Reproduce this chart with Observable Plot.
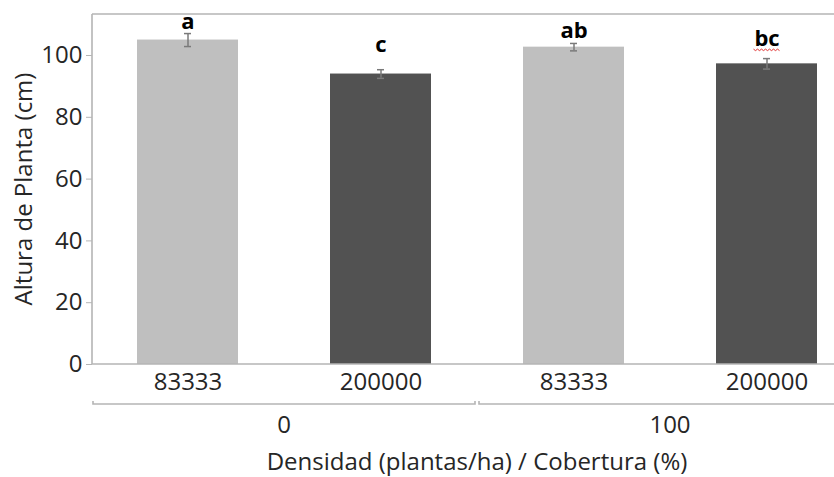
<!DOCTYPE html>
<html><head><meta charset="utf-8">
<script src="https://cdn.jsdelivr.net/npm/d3@7"></script>
<script src="https://cdn.jsdelivr.net/npm/@observablehq/plot@0.6"></script>
<style>body{margin:0;background:#fff}</style>
</head><body><div id="chart"></div>
<script>
// ---- data ----
const cobertura = ["0", "0", "100", "100"];
const densidad = ["83333", "200000", "83333", "200000"];
const altura = [105.0, 94.0, 102.7, 97.3];
const errorEst = [2.1, 1.4, 1.2, 1.7];
const letras = ["a", "c", "ab", "bc"];
const letraY = [108.7, 101.0, 105.8, 103.2];
const yTicks = [0, 20, 40, 60, 80, 100];
const grupos = ["0", "100"];
const yMax = 113.27;

const data = cobertura.map((c, i) => ({
  key: c + "|" + densidad[i], cob: c, dens: densidad[i],
  v: altura[i], lo: altura[i] - errorEst[i], hi: altura[i] + errorEst[i],
  letra: letras[i], ly: letraY[i]
}));

const FONT = "'Open Sans', sans-serif";
const TXT = "#262626";
const LINE = "#b5b5b5";

const plot = Plot.plot({
  width: 834, height: 477,
  marginLeft: 92, marginRight: 0, marginTop: 14, marginBottom: 113,
  style: {fontFamily: FONT, fontSize: "24px", background: "#fff"},
  x: {type: "band", domain: data.map(d => d.key), range: [91, 863],
      paddingInner: 0.477, paddingOuter: 0.2385, axis: null},
  y: {domain: [0, yMax], axis: null},
  color: {domain: ["83333", "200000"], range: ["#bfbfbf", "#525252"]},
  marks: [
    Plot.barY(data, {x: "key", y: "v", fill: "dens"}),
    Plot.ruleX(data, {x: "key", y1: "lo", y2: "hi", stroke: "#7a7a7a", strokeWidth: 1.5}),
    Plot.tickY(data, {x: "key", y: "lo", stroke: "#7a7a7a", strokeWidth: 1.5, insetLeft: 47, insetRight: 47}),
    Plot.tickY(data, {x: "key", y: "hi", stroke: "#7a7a7a", strokeWidth: 1.5, insetLeft: 47, insetRight: 47}),
    Plot.text(data, {x: "key", y: "ly", text: "letra", lineAnchor: "bottom",
      fontWeight: "bold", fontSize: 22, fill: "#000"}),
    Plot.axisY({ticks: yTicks, tickSize: 6, tickPadding: 4, fontSize: 24,
      stroke: LINE, fill: TXT, label: null}),
    Plot.axisX({tickSize: 0, tickPadding: 8, fontSize: 24, fill: TXT, label: null,
      tickFormat: k => k.split("|")[1]})
  ]
});

// ---- frame, group brackets, titles (positions from Plot's scales) ----
const svg = d3.select(plot);
const xs = plot.scale("x"), ys = plot.scale("y");
const bw = xs.bandwidth, step = xs.step;
const left = 92, right = 834;
const y0 = ys.apply(0), yTop = ys.apply(yMax);
const g = svg.append("g").attr("fill", "none").attr("stroke", LINE).attr("stroke-width", 1.6);
g.append("path").attr("d", `M${left},${yTop}H${right}M${left},${yTop}V${y0}H${right}`);

const keys = data.map(d => d.key);
const bracketY = y0 + 40;
grupos.forEach((gr, gi) => {
  const k0 = keys[gi * 2], k1 = keys[gi * 2 + 1];
  const start = xs.apply(k0) - (step - bw) / 2 + 2;
  const end = Math.min(xs.apply(k1) + bw + (step - bw) / 2 - 2, right);
  g.append("path").attr("d", `M${start},${bracketY - 3}V${bracketY}H${end}` + (end < right ? `V${bracketY - 3}` : ""));
  const cx = (xs.apply(k0) + xs.apply(k1) + bw) / 2;
  svg.append("text").attr("x", cx).attr("y", y0 + 69).attr("text-anchor", "middle")
    .attr("fill", TXT).attr("font-size", 24).attr("font-family", FONT).text(gr);
});

// red spell-check squiggle under the "bc" label, as in the reference
const iBc = letras.indexOf("bc");
const sx = xs.apply(keys[iBc]) + bw / 2, sy = ys.apply(letraY[iBc]) + 4;
let sq = `M${sx - 13},${sy}`;
for (let k = 0; k < 13; k++) sq += `L${sx - 13 + (k + 1) * 2},${sy + (k % 2 === 0 ? 1.5 : 0)}`;
svg.append("path").attr("d", sq).attr("fill", "none").attr("stroke", "#e03030").attr("stroke-width", 1);

svg.append("text").attr("x", (xs.range[0] + xs.range[1]) / 2).attr("y", y0 + 106)
  .attr("text-anchor", "middle").attr("fill", TXT).attr("font-size", 24).attr("font-family", FONT)
  .text("Densidad (plantas/ha) / Cobertura (%)");

svg.append("text").attr("transform", `translate(32,${(y0 + yTop) / 2}) rotate(-90)`)
  .attr("text-anchor", "middle").attr("fill", TXT).attr("font-size", 24).attr("font-family", FONT)
  .text("Altura de Planta (cm)");

document.getElementById("chart").append(plot);
</script>
</body></html>
